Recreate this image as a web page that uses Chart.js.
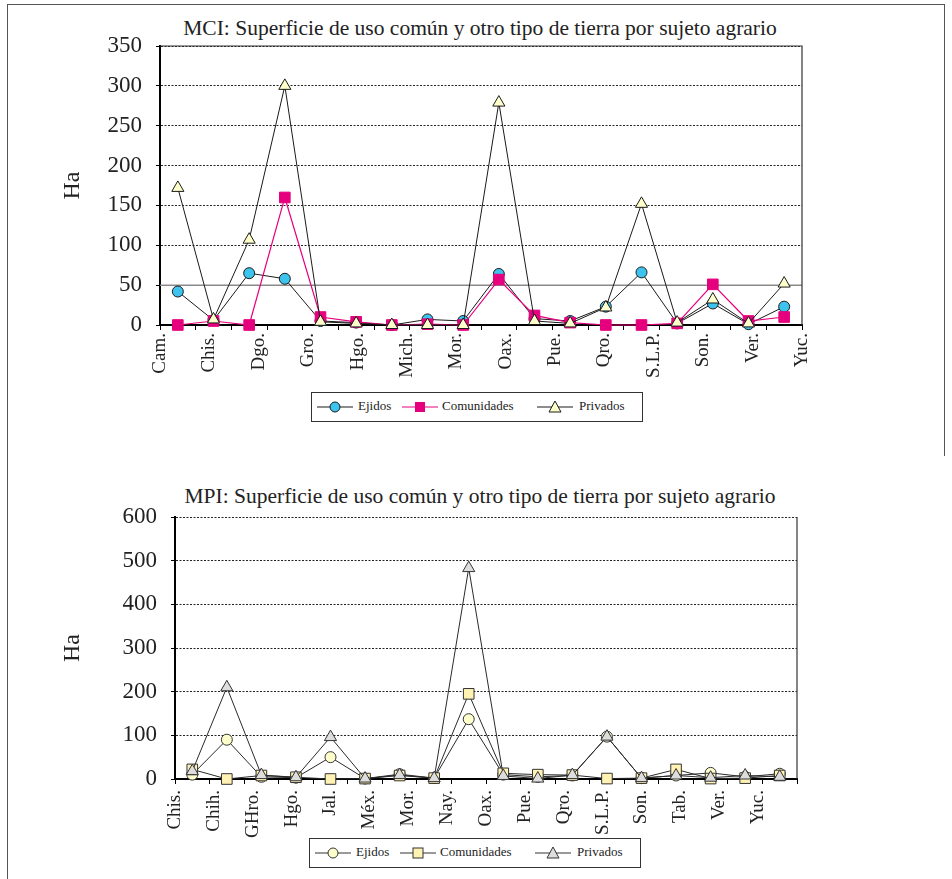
<!DOCTYPE html>
<html lang="es"><head>
  <meta charset="UTF-8">
  <title>Superficie de uso común y otro tipo de tierra por sujeto agrario</title>
  <script src="https://cdn.jsdelivr.net/npm/chart.js"></script>
  <style>
    body { margin: 0; background: #fff; font-family: "Liberation Serif", "Times New Roman", serif; color: #222; }
    #page { position: relative; width: 952px; height: 879px; overflow: hidden; }
    .line { position: absolute; background: #555; }
    canvas { position: absolute; left: 0; }
    .title { position: absolute; left: 0; width: 960px; text-align: center; font-size: 21.5px; line-height: 26px; }
    .legend { position: absolute; width: 330px; height: 28px; border: 1.5px solid #333; background: #fff; z-index: 2; }
    .legend svg, .legend span { position: absolute; }
    .legend svg { top: 7px; }
    .legend span { top: 5px; font-size: 13px; line-height: 16px; }
  </style>
</head><body>
<div id="page">
  <div class="line" style="left:7px;top:4px;width:1px;height:875px"></div>
  <div class="line" style="left:7px;top:4px;width:937px;height:1px"></div>
  <div class="line" style="left:944px;top:4px;width:1px;height:452px"></div>

  <div class="title" style="top:15px">MCI: Superficie de uso común y otro tipo de tierra por sujeto agrario</div>
  <canvas id="mci" width="952" height="400" style="top:0"></canvas>
  <div class="legend" style="left:311px;top:392px">
    <svg style="left:5px" width="36" height="14"><line x1="0" y1="7" x2="36" y2="7" stroke="#1a1a1a"/><circle cx="18" cy="7" r="5" fill="#3cc3ee" stroke="#1a1a1a"/></svg>
    <span style="left:46px">Ejidos</span>
    <svg style="left:90px" width="36" height="14"><line x1="0" y1="7" x2="36" y2="7" stroke="#e6007e"/><rect x="13" y="2" width="10" height="10" fill="#e6007e"/></svg>
    <span style="left:130px">Comunidades</span>
    <svg style="left:225px" width="36" height="14"><line x1="0" y1="7" x2="36" y2="7" stroke="#1a1a1a"/><polygon points="18,1 24,12 12,12" fill="#ffffcc" stroke="#1a1a1a"/></svg>
    <span style="left:267px">Privados</span>
  </div>

  <div class="title" style="top:483px">MPI: Superficie de uso común y otro tipo de tierra por sujeto agrario</div>
  <canvas id="mpi" width="952" height="400" style="top:470px"></canvas>
  <div class="legend" style="left:309px;top:838px">
    <svg style="left:5px" width="36" height="14"><line x1="0" y1="7" x2="36" y2="7" stroke="#333"/><circle cx="18" cy="7" r="5" fill="#ffffcc" stroke="#333"/></svg>
    <span style="left:46px">Ejidos</span>
    <svg style="left:90px" width="36" height="14"><line x1="0" y1="7" x2="36" y2="7" stroke="#333"/><rect x="13" y="2" width="10" height="10" fill="#fff2b3" stroke="#333"/></svg>
    <span style="left:130px">Comunidades</span>
    <svg style="left:225px" width="36" height="14"><line x1="0" y1="7" x2="36" y2="7" stroke="#333"/><polygon points="18,1 24,12 12,12" fill="#dddddd" stroke="#333"/></svg>
    <span style="left:267px">Privados</span>
  </div>
</div>
<script>
  // MCI (top chart)
  const mciCategories = ['1', '2', '3', '4', '5', '6', '7', '8', '9', '10', '11', '12', '13', '14', '15', '16', '17', '18'];
  const mciTickLabels = ['Cam.', 'Chis.', 'Dgo.', 'Gro.', 'Hgo.', 'Mich.', 'Mor.', 'Oax.', 'Pue.', 'Qro.', 'S.L.P.', 'Son.', 'Ver.', 'Yuc.'];
  const mciEjidos = [42, 6, 65, 58, 5, 3, 0, 7, 5, 64, 8, 5, 23, 66, 2, 27, 1, 23];
  const mciComunidades = [0, 5, 0, 160, 10, 4, 0, 1, 0, 57, 12, 3, 0, 0, 2, 51, 5, 10];
  const mciPrivados = [172, 7, 107, 300, 4, 2, 0, 0, 0, 279, 5, 2, 22, 152, 3, 32, 2, 52];

  // MPI (bottom chart)
  const mpiCategories = ['1', '2', '3', '4', '5', '6', '7', '8', '9', '10', '11', '12', '13', '14', '15', '16', '17', '18'];
  const mpiTickLabels = ['Chis.', 'Chih.', 'GHro.', 'Hgo.', 'Jal.', 'Méx.', 'Mor.', 'Nay.', 'Oax.', 'Pue.', 'Qro.', 'S.L.P.', 'Son.', 'Tab.', 'Ver.', 'Yuc.', ''];
  const mpiEjidos = [10, 90, 5, 3, 50, 1, 11, 2, 137, 10, 5, 8, 97, 2, 8, 14, 5, 12];
  const mpiComunidades = [22, 0, 8, 4, 0, 1, 8, 2, 195, 13, 10, 9, 1, 2, 22, 1, 2, 8];
  const mpiPrivados = [18, 210, 9, 4, 96, 1, 9, 2, 483, 7, 1, 9, 97, 2, 8, 3, 8, 5];

  const serif = '"Liberation Serif", "Times New Roman", serif';

  // plot area right/top border and the solid reference line
  const plotFrame = {
    id: 'plotFrame',
    beforeDatasetsDraw(chart, args, opts) {
      const {ctx, chartArea: a, scales} = chart;
      ctx.save();
      if (opts.refValue !== undefined) {
        const y = scales.y.getPixelForValue(opts.refValue);
        ctx.strokeStyle = '#8a8a8a';
        ctx.lineWidth = 1.5;
        ctx.beginPath();
        ctx.moveTo(a.left, y);
        ctx.lineTo(a.right, y);
        ctx.stroke();
      }
      ctx.strokeStyle = '#333';
      ctx.lineWidth = 1.2;
      ctx.beginPath();
      if (opts.top) {
        ctx.moveTo(a.left, a.top);
        ctx.lineTo(a.right, a.top);
      } else {
        ctx.moveTo(a.right, a.top);
      }
      ctx.lineTo(a.right, a.bottom);
      ctx.stroke();
      ctx.restore();
    }
  };

  function makeChart(id, cfg) {
    return new Chart(document.getElementById(id), {
      type: 'line',
      data: { labels: cfg.categories, datasets: cfg.datasets },
      options: {
        responsive: false,
        animation: false,
        layout: { padding: cfg.padding },
        plugins: {
          legend: { display: false },
          tooltip: { enabled: false },
          plotFrame: cfg.frame
        },
        elements: { line: { tension: 0, fill: false } },
        scales: {
          x: {
            offset: true,
            ticks: { display: false },
            grid: { offset: true, drawOnChartArea: false, tickLength: 5, color: '#000', lineWidth: 1 },
            border: { color: '#000', width: 2 },
            afterFit: s => { s.height = 6; }
          },
          x2: {
            type: 'category',
            position: 'bottom',
            weight: 1,
            offset: false,
            labels: cfg.tickLabels,
            grid: { display: false, drawTicks: false },
            border: { display: false },
            ticks: { autoSkip: false, minRotation: 90, maxRotation: 90, padding: cfg.labelPad, color: '#222', font: { family: serif, size: 19 } },
            afterFit: s => { s.height = 60; }
          },
          y: {
            min: 0,
            max: cfg.max,
            ticks: { stepSize: cfg.step, padding: 14, color: '#222', font: { family: serif, size: 23 } },
            grid: {
              color: c => (c.tick && c.tick.value === cfg.refValue) ? 'rgba(0,0,0,0)' : '#222',
              lineWidth: 1, tickLength: 4, tickColor: '#000'
            },
            border: { color: '#000', width: 2, dash: [2, 1.5] },
            title: { display: true, text: 'Ha', color: '#222', font: { family: serif, size: 24 }, padding: { top: 4, bottom: 4 } },
            afterFit: s => { s.width = cfg.yWidth; }
          }
        }
      },
      plugins: [plotFrame]
    });
  }

  makeChart('mci', {
    categories: mciCategories,
    tickLabels: mciTickLabels,
    max: 350, step: 50, refValue: 50, yWidth: 106, labelPad: 2,
    padding: { left: 54, right: 150, top: 46, bottom: 9 },
    frame: { refValue: 50, top: true },
    datasets: [
      { label: 'Ejidos', data: mciEjidos, order: 3, clip: false, borderColor: '#1a1a1a', borderWidth: 1,
        pointStyle: 'circle', pointRadius: 5.5, pointBackgroundColor: '#3cc3ee', pointBorderColor: '#1a1a1a', pointBorderWidth: 1 },
      { label: 'Comunidades', data: mciComunidades, order: 2, clip: false, borderColor: '#e6007e', borderWidth: 1.2,
        pointStyle: 'rect', pointRadius: 7.5, pointBackgroundColor: '#e6007e', pointBorderColor: '#e6007e', pointBorderWidth: 1 },
      { label: 'Privados', data: mciPrivados, order: 1, clip: false, borderColor: '#1a1a1a', borderWidth: 1,
        pointStyle: 'triangle', pointRadius: 7, pointBackgroundColor: '#ffffcc', pointBorderColor: '#1a1a1a', pointBorderWidth: 1 }
    ]
  });

  makeChart('mpi', {
    categories: mpiCategories,
    tickLabels: mpiTickLabels,
    max: 600, step: 100, refValue: undefined, yWidth: 121, labelPad: 5,
    padding: { left: 54, right: 155, top: 47, bottom: 25 },
    frame: { top: false },
    datasets: [
      { label: 'Ejidos', data: mpiEjidos, order: 3, clip: false, borderColor: '#2a2a2a', borderWidth: 1,
        pointStyle: 'circle', pointRadius: 5.5, pointBackgroundColor: '#ffffcc', pointBorderColor: '#333', pointBorderWidth: 1 },
      { label: 'Comunidades', data: mpiComunidades, order: 2, clip: false, borderColor: '#2a2a2a', borderWidth: 1,
        pointStyle: 'rect', pointRadius: 7.5, pointBackgroundColor: '#fff2b3', pointBorderColor: '#333', pointBorderWidth: 1 },
      { label: 'Privados', data: mpiPrivados, order: 1, clip: false, borderColor: '#2a2a2a', borderWidth: 1,
        pointStyle: 'triangle', pointRadius: 7, pointBackgroundColor: '#dddddd', pointBorderColor: '#333', pointBorderWidth: 1 }
    ]
  });
</script>
</body></html>
